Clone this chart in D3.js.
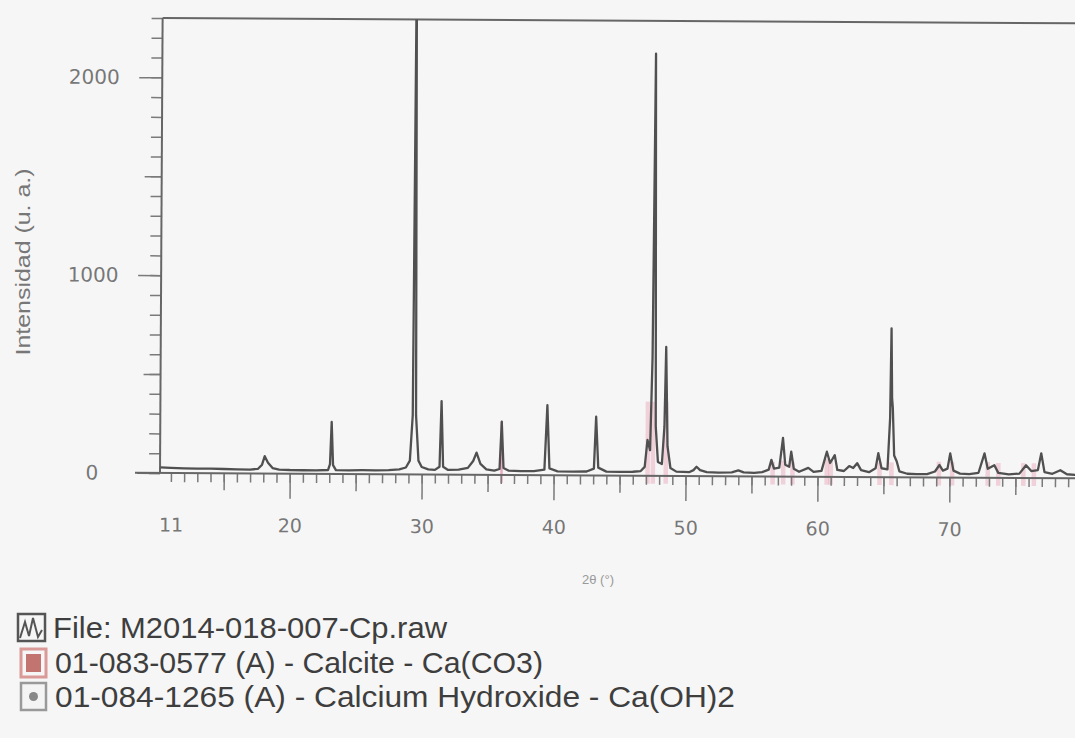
<!DOCTYPE html>
<html>
<head>
<meta charset="utf-8">
<script src="https://cdn.jsdelivr.net/npm/d3@7"></script>
<style>
  html, body { margin: 0; padding: 0; background: #f6f6f6; }
  svg { display: block; }
</style>
</head>
<body>
<div id="chart"></div>
<script>
// diffractogram (2theta in degrees, counts)
var twoTheta = [10.2, 11, 12, 13, 14, 15, 16, 17, 17.6, 17.9, 18.1, 18.35, 18.7, 19.2, 20, 21, 22,
  22.9, 23.05, 23.16, 23.28, 23.5, 24.5, 25.5, 26.5, 27.5, 28.3, 28.8, 29.1, 29.3, 29.42, 29.55, 29.75,
  30.0, 30.5, 31.0, 31.35, 31.48, 31.62, 32.0, 32.8, 33.5, 33.9, 34.15, 34.45, 34.9, 35.5, 35.9, 36.05,
  36.2, 36.6, 37.5, 38.5, 39.3, 39.5, 39.68, 40.3, 41.5, 42.5, 43.05, 43.2, 43.38, 44, 45, 46, 46.6,
  46.9, 47.1, 47.3, 47.45, 47.58, 47.72, 47.9, 48.2, 48.38, 48.48, 48.62, 48.85, 49.3, 50.3, 50.6,
  50.83, 51.1, 51.6, 52.5, 53.5, 54.0, 54.4, 55.2, 55.8, 56.3, 56.5, 56.7, 57.1, 57.37, 57.55, 57.85,
  58.0, 58.2, 58.6, 59.3, 59.7, 60.3, 60.7, 60.95, 61.3, 61.5, 62.0, 62.4, 62.7, 63.0, 63.3, 63.9,
  64.4, 64.6, 64.85, 65.3, 65.48, 65.55, 65.62, 65.68, 65.8, 66.0, 66.2, 66.8, 67.5, 68.3, 68.9,
  69.24, 69.5, 69.85, 70.05, 70.3, 70.8, 71.5, 72.2, 72.65, 72.9, 73.4, 73.7, 74.5, 75.3, 75.8, 76.2,
  76.7, 76.95, 77.2, 77.8, 78.4, 78.9, 79.5, 80.5];
var counts = [28, 26, 24, 23, 24, 22, 21, 20, 24, 45, 88, 55, 28, 21, 19, 18, 18,
  20, 50, 263, 45, 20, 19, 20, 20, 21, 25, 35, 70, 300, 2600, 300, 70,
  38, 26, 24, 40, 372, 40, 24, 26, 35, 70, 112, 55, 28, 22, 30, 269,
  35, 22, 20, 20, 28, 354, 35, 20, 19, 20, 35, 297, 40, 20, 19, 20, 24,
  45, 181, 130, 600, 2134, 250, 70, 60, 250, 652, 150, 40, 22, 20, 30,
  47, 30, 20, 18, 20, 30, 20, 18, 22, 35, 84, 40, 45, 195, 60, 50,
  126, 40, 25, 45, 25, 30, 127, 70, 110, 35, 30, 55, 45, 70, 35, 25,
  45, 121, 45, 40, 300, 752, 400, 350, 110, 80, 30, 18, 16, 17, 30,
  63, 35, 45, 122, 35, 20, 18, 25, 123, 45, 64, 25, 18, 22, 64, 35,
  40, 125, 30, 22, 40, 20, 17, 16];

// calcite reference sticks (pink)
var calcitePos = [36.05, 47.12, 47.52, 48.5, 56.6, 57.4, 58.1, 60.7, 61.0, 64.7, 65.6, 69.2, 70.2, 72.9, 73.7, 75.6, 76.4];
var calciteTop = [270, 375, 375, 375, 75, 80, 75, 90, 80, 75, 75, 80, 80, 80, 75, 75, 75];

var xLabelTicks = [11, 20, 30, 40, 50, 60, 70];
var xMajorTicks = [20, 30, 40, 50, 60, 70, 80];
var xMidTicks = [15, 25, 35, 45, 55, 65, 75];
var yLabelTicks = [0, 1000, 2000];
var yMidTicks = [500, 1500];

var legendItems = ["File: M2014-018-007-Cp.raw",
  "01-083-0577 (A) - Calcite - Ca(CO3)",
  "01-084-1265 (A) - Calcium Hydroxide - Ca(OH)2"];
var legendWidths = [394, 488, 680];

var W = 1075, H = 738;
var svg = d3.select("#chart").append("svg").attr("width", W).attr("height", H);

var x = d3.scaleLinear().domain([10.17, 80.5]).range([160, 1088]);
var y = d3.scaleLinear().domain([0, 2300]).range([473, 18]);

// the scan is turned a little clockwise
var g = svg.append("g").attr("transform", "rotate(0.33,160,473)");

svg.append("defs").append("clipPath").attr("id", "plotclip")
  .append("rect").attr("x", 160).attr("y", y(2300)).attr("width", 930).attr("height", 480);

// reference sticks
g.append("g").attr("clip-path", "url(#plotclip)").selectAll("line").data(calcitePos).enter().append("line")
  .attr("x1", function(d) { return x(d); }).attr("x2", function(d) { return x(d); })
  .attr("y1", y(-40)).attr("y2", function(d, i) { return y(calciteTop[i]); })
  .attr("stroke", "#e07a98").attr("stroke-opacity", function(d, i) { return i == 0 ? 0.6 : 0.3; })
  .attr("stroke-width", function(d, i) { return i == 0 ? 2.5 : 4.5; });

// axes
function styleAxis(sel) {
  sel.select(".domain").remove();
  sel.selectAll(".tick line").attr("stroke", "#7a7a7a").attr("stroke-width", 1.5);
}
var xMinor = d3.range(11, 81, 1);
g.append("g").attr("transform", "translate(0," + y(0) + ")")
  .call(d3.axisBottom(x).tickValues(xMinor).tickSize(9).tickFormat("")).call(styleAxis);
g.append("g").attr("transform", "translate(0," + y(0) + ")")
  .call(d3.axisBottom(x).tickValues(xMidTicks).tickSize(17).tickFormat("")).call(styleAxis);
g.append("g").attr("transform", "translate(0," + y(0) + ")")
  .call(d3.axisBottom(x).tickValues(xMajorTicks).tickSize(25).tickFormat("")).call(styleAxis);
var xl = g.append("g").attr("transform", "translate(0," + y(0) + ")")
  .call(d3.axisBottom(x).tickValues(xLabelTicks).tickSize(0).tickPadding(45).tickFormat(d3.format("d")));
xl.select(".domain").remove();
xl.selectAll("text").attr("font-family", "DejaVu Sans").attr("font-size", 19).attr("fill", "#777");

var yMinor = d3.range(0, 2301, 100);
g.append("g").attr("transform", "translate(160,0)")
  .call(d3.axisLeft(y).tickValues(yMinor).tickSize(11).tickFormat("")).call(styleAxis);
g.append("g").attr("transform", "translate(160,0)")
  .call(d3.axisLeft(y).tickValues(yMidTicks).tickSize(17).tickFormat("")).call(styleAxis);
var yl = g.append("g").attr("transform", "translate(160,0)")
  .call(d3.axisLeft(y).tickValues(yLabelTicks).tickSize(23).tickFormat(d3.format("d")));
styleAxis(yl);
yl.selectAll("text").attr("x", -68).attr("text-anchor", "middle")
  .attr("font-family", "DejaVu Sans").attr("font-size", 20).attr("fill", "#777");

// frame
g.append("line").attr("x1", 135).attr("x2", 1090).attr("y1", y(0)).attr("y2", y(0))
  .attr("stroke", "#666").attr("stroke-width", 2);
g.append("line").attr("x1", 160).attr("x2", 160).attr("y1", y(0)).attr("y2", y(2300))
  .attr("stroke", "#666").attr("stroke-width", 2);
g.append("line").attr("x1", 160).attr("x2", 1090).attr("y1", y(2300)).attr("y2", y(2300))
  .attr("stroke", "#666").attr("stroke-width", 2);

// pattern
var line = d3.line().x(function(d) { return x(d[0]); }).y(function(d) { return y(d[1]); });
g.append("path").attr("clip-path", "url(#plotclip)")
  .datum(twoTheta.map(function(t, i) { return [t, counts[i]]; }))
  .attr("d", line).attr("fill", "none").attr("stroke", "#505050").attr("stroke-width", 2.3)
  .attr("stroke-linejoin", "round");

// axis titles
svg.append("text").attr("transform", "translate(30,262) rotate(-90)")
  .attr("text-anchor", "middle").attr("font-family", "Liberation Sans").attr("font-size", 20)
  .attr("fill", "#777").attr("textLength", 187).attr("lengthAdjust", "spacingAndGlyphs")
  .text("Intensidad (u. a.)");
svg.append("text").attr("x", 598).attr("y", 584).attr("text-anchor", "middle")
  .attr("font-family", "Liberation Sans").attr("font-size", 13).attr("fill", "#999")
  .text("2θ (°)");

// legend
var lg = svg.append("g");
var baselines = [638, 673, 707];
lg.selectAll("text").data(legendItems).enter().append("text")
  .attr("x", function(d, i) { return i == 0 ? 53 : 55; })
  .attr("y", function(d, i) { return baselines[i]; })
  .attr("font-family", "Liberation Sans").attr("font-size", 29).attr("fill", "#3e3e3e")
  .attr("textLength", function(d, i) { return legendWidths[i]; })
  .attr("lengthAdjust", "spacingAndGlyphs")
  .text(function(d) { return d; });

// icon: file
lg.append("rect").attr("x", 18).attr("y", 614).attr("width", 27).attr("height", 27)
  .attr("fill", "none").attr("stroke", "#555").attr("stroke-width", 2.5);
lg.append("path").attr("d", "M20,638 L25,622 L29,636 L33,618 L38,637 L42,630")
  .attr("fill", "none").attr("stroke", "#555").attr("stroke-width", 2);
// icon: calcite
lg.append("rect").attr("x", 21).attr("y", 649).attr("width", 25).attr("height", 28)
  .attr("fill", "none").attr("stroke", "#d99a98").attr("stroke-width", 3);
lg.append("rect").attr("x", 26).attr("y", 654).attr("width", 15).attr("height", 18)
  .attr("fill", "#c27570");
// icon: calcium hydroxide
lg.append("rect").attr("x", 21).attr("y", 683).attr("width", 25).attr("height", 27)
  .attr("fill", "#f4f4f4").attr("stroke", "#999").attr("stroke-width", 2.5);
lg.append("circle").attr("cx", 33.5).attr("cy", 696.5).attr("r", 4.5).attr("fill", "#888");
</script>
</body>
</html>
